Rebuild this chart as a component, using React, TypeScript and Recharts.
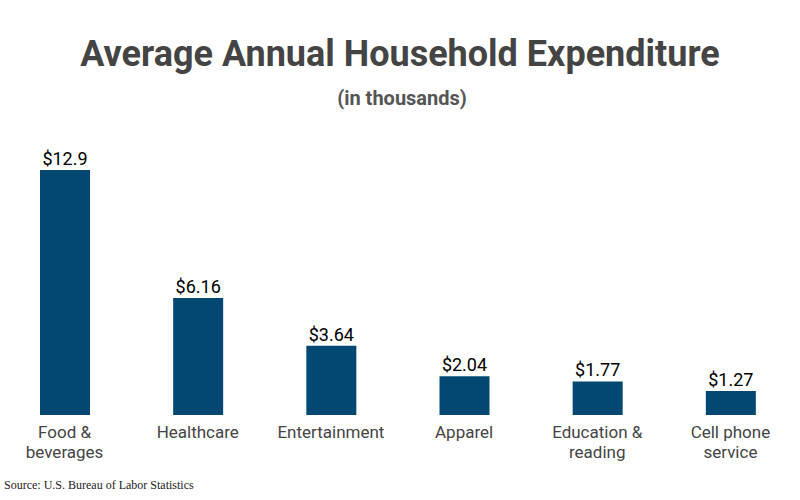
import React from "react";
import { BarChart, Bar, XAxis, YAxis, LabelList } from "recharts";

const categories = ["Food & beverages", "Healthcare", "Entertainment", "Apparel", "Education & reading", "Cell phone service"];
const categoryLines = [["Food &", "beverages"], ["Healthcare"], ["Entertainment"], ["Apparel"], ["Education &", "reading"], ["Cell phone", "service"]];
const values = [12.9, 6.16, 3.64, 2.04, 1.77, 1.27];

const data = categories.map((c, i) => ({ name: c, value: values[i], idx: i }));

const Tick = (props: any) => {
  const { x, y, index } = props;
  const lines = categoryLines[index] || [];
  return (
    <g transform={`translate(${x},${y})`}>
      {lines.map((l, i) => (
        <text key={i} x={0} y={i * 20} dy={17} textAnchor="middle" fill="#444" fontSize={17} fontFamily="Roboto">
          {l}
        </text>
      ))}
    </g>
  );
};

export default function App() {
  return (
    <div style={{ position: "absolute", left: 0, top: 0, width: 800, height: 500, background: "#fff" }}>
      <div style={{ position: "absolute", left: 0, top: 30, width: 800, textAlign: "center", fontFamily: "Roboto", fontWeight: 700, fontSize: 36, color: "#444", lineHeight: "48px" }}>
        Average Annual Household Expenditure
      </div>
      <div style={{ position: "absolute", left: 2, top: 86, width: 800, textAlign: "center", fontFamily: "Roboto", fontWeight: 700, fontSize: 20, color: "#555", lineHeight: "24px" }}>
        (in thousands)
      </div>
      <div style={{ position: "absolute", left: -2, top: 0 }}>
        <BarChart width={804} height={500} data={data} margin={{ top: 170, right: 5, left: 0, bottom: 25 }}>
          <XAxis dataKey="name" axisLine={false} tickLine={false} interval={0} height={60} tick={<Tick />} tickMargin={0} />
          <YAxis hide domain={[0, 12.9]} />
          <Bar dataKey="value" fill="#024873" barSize={50} isAnimationActive={false}>
            <LabelList dataKey="value" position="top" formatter={(v: any) => `$${v}`} fill="#000" fontSize={18} fontWeight={400} fontFamily="Roboto" />
          </Bar>
        </BarChart>
      </div>
      <div style={{ position: "absolute", left: 4, top: 478, fontFamily: "'Liberation Serif', 'Times New Roman', serif", fontSize: 12, color: "#222" }}>
        Source: U.S. Bureau of Labor Statistics
      </div>
    </div>
  );
}
